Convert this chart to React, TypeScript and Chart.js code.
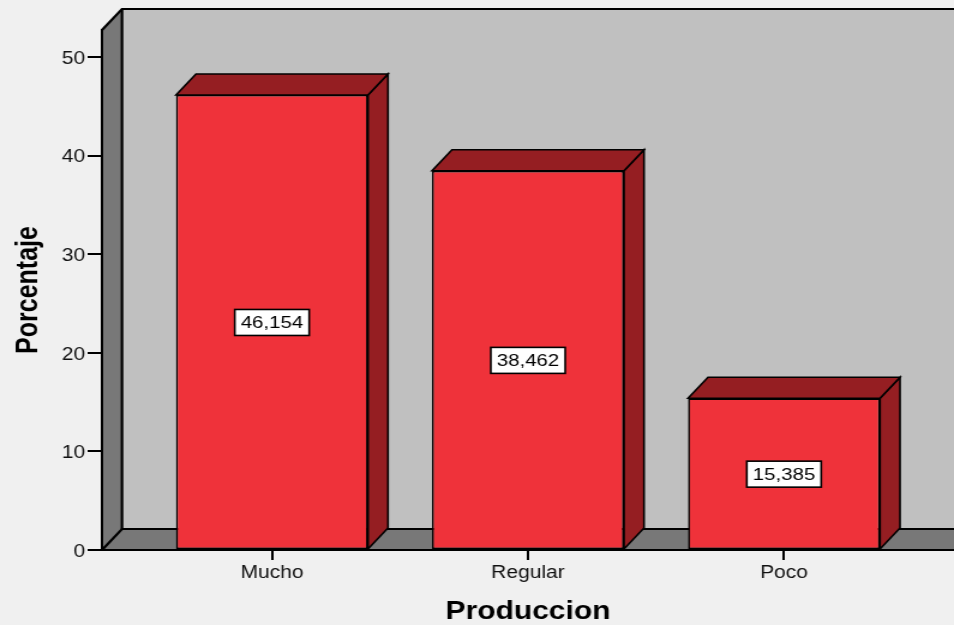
import { useEffect, useRef } from "react";
import { Chart, registerables } from "chart.js";

Chart.register(...registerables);

// Frecuencias porcentuales por nivel de producción
const categories = ["Mucho", "Regular", "Poco"];
const porcentajes = [46.154, 38.462, 15.385];
const yTicks = [0, 10, 20, 30, 40, 50];
const xTitle = "Produccion";
const yTitle = "Porcentaje";

// The canvas is drawn narrower and widened with CSS, like the exported SPSS graphic.
const CANVAS_W = 795;
const CANVAS_H = 625;
const STRETCH_X = 954 / CANVAS_W;

// Depth of the pseudo-3D frame and bars
const DX = 16.67;
const DY = -21;

const FONT = "'Liberation Sans', Arial, sans-serif";
const BAR_FRONT = "#ef323a";
const BAR_DARK = "#951e22";
const WALL_BACK = "#c0c0c0";
const WALL_SIDE = "#787878";
const PAGE_BG = "#f0f0f0";

type Pt = [number, number];

function poly(ctx: CanvasRenderingContext2D, pts: Pt[], fill: string | null, stroke: boolean) {
  ctx.beginPath();
  ctx.moveTo(pts[0][0], pts[0][1]);
  for (let i = 1; i < pts.length; i++) ctx.lineTo(pts[i][0], pts[i][1]);
  ctx.closePath();
  if (fill) {
    ctx.fillStyle = fill;
    ctx.fill();
  }
  if (stroke) ctx.stroke();
}

function line(ctx: CanvasRenderingContext2D, pts: Pt[]) {
  ctx.beginPath();
  ctx.moveTo(pts[0][0], pts[0][1]);
  for (let i = 1; i < pts.length; i++) ctx.lineTo(pts[i][0], pts[i][1]);
  ctx.stroke();
}

// Back wall, left wall and floor of the 3D frame
const frame3d = {
  id: "frame3d",
  beforeDraw(chart: any) {
    const { ctx, chartArea: a, width, height } = chart;
    ctx.save();
    ctx.fillStyle = PAGE_BG;
    ctx.fillRect(0, 0, width, height);

    const bl = a.left + DX;
    const bt = a.top + DY;
    const bb = a.bottom + DY;
    const br = a.right + DX + 40;

    ctx.fillStyle = WALL_BACK;
    ctx.fillRect(bl, bt, br - bl, bb - bt);

    poly(ctx, [[a.left, a.top], [bl, bt], [bl, bb], [a.left, a.bottom]], WALL_SIDE, false);
    poly(ctx, [[a.left, a.bottom], [bl, bb], [br, bb], [br - DX, a.bottom]], WALL_SIDE, false);

    ctx.strokeStyle = "#000";
    ctx.lineWidth = 2.2;
    ctx.lineJoin = "miter";
    line(ctx, [[a.left, a.top], [bl, bt], [br, bt]]);
    line(ctx, [[bl, bt], [bl, bb]]);
    line(ctx, [[a.left, a.bottom], [bl, bb], [br, bb]]);
    ctx.restore();
  },
};

// Top and side faces of each bar, plus the boxed value labels
const bars3d = {
  id: "bars3d",
  afterDatasetsDraw(chart: any) {
    const { ctx } = chart;
    const meta = chart.getDatasetMeta(0);
    const yScale = chart.scales.y;
    const values = chart.data.datasets[0].data as { x: number; y: number }[];
    ctx.save();
    ctx.strokeStyle = "#000";
    ctx.lineWidth = 1.6;
    ctx.lineJoin = "miter";
    meta.data.forEach((bar: any) => {
      const { x, y, base, width } = bar.getProps(["x", "y", "base", "width"], true);
      const l = x - width / 2;
      const r = x + width / 2;
      poly(ctx, [[r, y], [r + DX, y + DY], [r + DX, base + DY], [r, base]], BAR_DARK, true);
      poly(ctx, [[l, y], [l + DX, y + DY], [r + DX, y + DY], [r, y]], BAR_DARK, true);
    });

    ctx.font = `17px ${FONT}`;
    ctx.textAlign = "center";
    ctx.textBaseline = "middle";
    meta.data.forEach((bar: any, i: number) => {
      const v = values[i].y;
      const text = v.toFixed(3).replace(".", ",");
      const cx = bar.x;
      const cy = yScale.getPixelForValue(v / 2);
      const w = ctx.measureText(text).width + 10;
      const h = 26;
      ctx.fillStyle = "#fff";
      ctx.fillRect(cx - w / 2, cy - h / 2, w, h);
      ctx.lineWidth = 1.6;
      ctx.strokeStyle = "#000";
      ctx.strokeRect(cx - w / 2, cy - h / 2, w, h);
      ctx.fillStyle = "#000";
      ctx.fillText(text, cx, cy + 1);
    });
    ctx.restore();
  },
};

export default function App() {
  const ref = useRef<HTMLCanvasElement | null>(null);

  useEffect(() => {
    if (!ref.current) return;
    const chart = new Chart(ref.current, {
      type: "bar",
      data: {
        datasets: [
          {
            data: categories.map((_, i) => ({ x: i, y: porcentajes[i] })),
            backgroundColor: BAR_FRONT,
            borderColor: "#000",
            borderWidth: 1.6,
            borderSkipped: false,
            barPercentage: 0.75,
            categoryPercentage: 1,
          },
        ],
      },
      options: {
        responsive: false,
        animation: false,
        devicePixelRatio: 1,
        layout: { padding: { top: 30, right: 0, bottom: 0, left: 0 } },
        plugins: {
          legend: { display: false },
          tooltip: { enabled: false },
        },
        scales: {
          x: {
            type: "linear",
            offset: false,
            min: -0.664,
            max: 2.664,
            afterBuildTicks: (s: any) => {
              s.ticks = categories.map((_, i) => ({ value: i }));
            },
            afterFit: (s: any) => {
              s.height = 75;
            },
            ticks: {
              callback: (v: any) => categories[v as number] ?? "",
              autoSkip: false,
              maxRotation: 0,
              padding: 3,
              color: "#111",
              font: { family: FONT, size: 17.5 },
            },
            grid: {
              offset: false,
              drawOnChartArea: false,
              drawTicks: true,
              tickLength: 10,
              color: "#000",
              lineWidth: 2,
            },
            border: { color: "#000", width: 2 },
            title: {
              display: true,
              text: xTitle,
              color: "#000",
              font: { family: FONT, size: 25, weight: "bold", lineHeight: 1 },
              padding: { top: 0, bottom: 0 },
            },
          },
          y: {
            min: 0,
            max: 52.74,
            afterBuildTicks: (s: any) => {
              s.ticks = yTicks.map((v) => ({ value: v }));
            },
            afterFit: (s: any) => {
              s.width = 85;
            },
            ticks: {
              padding: 2,
              labelOffset: 2,
              color: "#111",
              font: { family: FONT, size: 17.5 },
            },
            grid: {
              drawOnChartArea: false,
              drawTicks: true,
              tickLength: 12,
              color: "#000",
              lineWidth: 2,
            },
            border: { color: "#000", width: 2 },
            title: {
              display: true,
              text: yTitle,
              color: "#000",
              font: { family: FONT, size: 25, weight: "bold", lineHeight: 1 },
              padding: { top: 12, bottom: 0 },
            },
          },
        },
      },
      plugins: [frame3d, bars3d],
    } as any);
    return () => chart.destroy();
  }, []);

  return (
    <div
      style={{
        position: "fixed",
        left: 0,
        top: 0,
        width: 954,
        height: 625,
        overflow: "hidden",
        background: PAGE_BG,
      }}
    >
      <canvas
        ref={ref}
        width={CANVAS_W}
        height={CANVAS_H}
        style={{
          display: "block",
          width: CANVAS_W,
          height: CANVAS_H,
          transform: `scaleX(${STRETCH_X})`,
          transformOrigin: "0 0",
        }}
      />
    </div>
  );
}
